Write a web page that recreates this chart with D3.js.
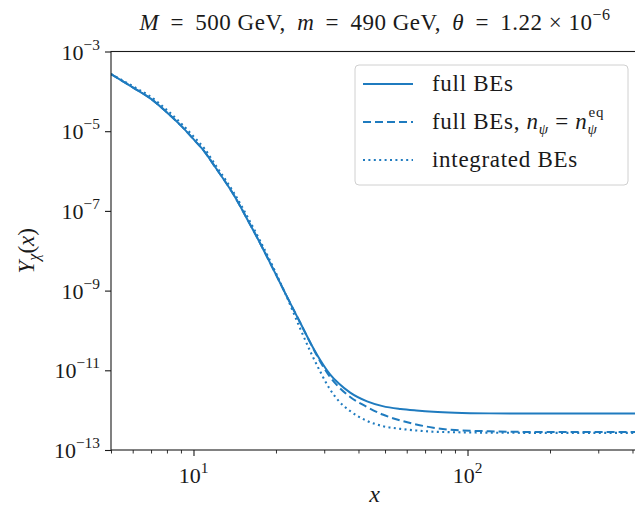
<!DOCTYPE html>
<html>
<head>
<meta charset="utf-8">
<script src="https://cdn.jsdelivr.net/npm/d3@7"></script>
<style>
  body { margin: 0; background: #fff; }
  svg { display: block; font-family: "Liberation Serif", "DejaVu Serif", serif; }
</style>
</head>
<body>
<svg id="chart"></svg>
<script>
// values
var xValues = [5, 6, 7, 8, 9, 10, 11, 12, 14, 16, 17.5, 20, 22, 24.5, 27, 29, 31.5, 34, 37.3, 43, 49, 57, 65, 75, 90, 120, 200, 300, 420];
var fullBEs = [2.72e-4, 1.26e-4, 6.46e-5, 2.95e-5, 1.38e-5, 6.3e-6, 3.0e-6, 1.26e-6, 2.57e-7, 4.9e-8, 1.55e-8, 2.51e-9, 6.76e-10, 1.58e-10, 4.27e-11, 1.82e-11, 7.94e-12, 4.57e-12, 2.75e-12, 1.66e-12, 1.26e-12, 1.07e-12, 9.8e-13, 9.1e-13, 8.6e-13, 8.3e-13, 8.2e-13, 8.2e-13, 8.2e-13];
var fullBEsEq = [2.72e-4, 1.26e-4, 6.46e-5, 2.95e-5, 1.38e-5, 6.3e-6, 3.0e-6, 1.26e-6, 2.57e-7, 4.9e-8, 1.55e-8, 2.51e-9, 6.76e-10, 1.58e-10, 4.17e-11, 1.66e-11, 6.76e-12, 3.72e-12, 2.14e-12, 1.2e-12, 7.76e-13, 5.5e-13, 4.37e-13, 3.63e-13, 3.16e-13, 2.95e-13, 2.82e-13, 2.82e-13, 2.82e-13];
var integratedBEs = [2.72e-4, 1.35e-4, 7.2e-5, 3.4e-5, 1.58e-5, 7.4e-6, 3.55e-6, 1.45e-6, 2.95e-7, 5.75e-8, 1.78e-8, 2.75e-9, 6.46e-10, 1.12e-10, 2.51e-11, 9.3e-12, 3.31e-12, 1.66e-12, 9.5e-13, 5.37e-13, 3.98e-13, 3.39e-13, 3.09e-13, 2.88e-13, 2.79e-13, 2.72e-13, 2.69e-13, 2.69e-13, 2.69e-13];

var yTicks = [1e-3, 1e-5, 1e-7, 1e-9, 1e-11, 1e-13];
var xMajorTicks = [10, 100];
var xMinorTicks = [5, 6, 7, 8, 9, 20, 30, 40, 50, 60, 70, 80, 90, 200, 300, 400];

var seriesNames = ["full BEs", "full BEs, n_eq", "integrated BEs"];
var seriesDash = [null, "8,4", "2,3.4"];

var iWidth = 635, iHeight = 512;
var oPlot = { left: 111, top: 51.5, right: 638.3, bottom: 450 };
var sColor = "#1f7bbf";
var sInk = "#1a1a1a";

var oSvg = d3.select("#chart").attr("width", iWidth).attr("height", iHeight);

var oScaleX = d3.scaleLog().domain([5, 420]).range([oPlot.left, oPlot.right]);
var oScaleY = d3.scaleLog().domain([1e-13, 1e-3]).range([oPlot.bottom, oPlot.top]);

oSvg.append("clipPath").attr("id", "plotClip")
	.append("rect")
	.attr("x", oPlot.left).attr("y", oPlot.top)
	.attr("width", oPlot.right - oPlot.left).attr("height", oPlot.bottom - oPlot.top);

// curves
var oLine = d3.line()
	.x(function (d) { return oScaleX(d[0]); })
	.y(function (d) { return oScaleY(d[1]); })
	.curve(d3.curveMonotoneX);

var aSeries = [fullBEs, fullBEsEq, integratedBEs];
var oCurves = oSvg.append("g").attr("clip-path", "url(#plotClip)");
aSeries.forEach(function (aY, i) {
	oCurves.append("path")
		.datum(xValues.map(function (x, j) { return [x, aY[j]]; }))
		.attr("fill", "none")
		.attr("stroke", sColor)
		.attr("stroke-width", i === 2 ? 2.1 : 2)
		.attr("stroke-dasharray", seriesDash[i])
		.attr("d", oLine);
});

// spines
oSvg.append("rect")
	.attr("x", oPlot.left).attr("y", oPlot.top)
	.attr("width", oPlot.right - oPlot.left).attr("height", oPlot.bottom - oPlot.top)
	.attr("fill", "none").attr("stroke", sInk).attr("stroke-width", 1.1);

// y axis
var oYAxis = oSvg.append("g")
	.attr("transform", "translate(" + oPlot.left + ",0)")
	.call(d3.axisLeft(oScaleY).tickValues(yTicks).tickSize(6).tickFormat(""));
oYAxis.select(".domain").remove();
oYAxis.selectAll(".tick line").attr("stroke", sInk).attr("stroke-width", 1.1);

function powerLabel(oText, iExp, fSize) {
	oText.append("tspan").text("10");
	oText.append("tspan")
		.attr("dy", -0.45 * fSize)
		.attr("font-size", fSize * 0.7)
		.text(iExp < 0 ? "\u2212" + (-iExp) : String(iExp));
}

yTicks.forEach(function (v) {
	var oText = oSvg.append("text")
		.attr("x", oPlot.left - 11)
		.attr("y", oScaleY(v) + 8)
		.attr("text-anchor", "end")
		.attr("font-size", 22)
		.attr("fill", sInk);
	powerLabel(oText, Math.round(Math.log10(v)), 22);
});

// x axis
var oXAxis = oSvg.append("g")
	.attr("transform", "translate(0," + oPlot.bottom + ")")
	.call(d3.axisBottom(oScaleX).tickValues(xMajorTicks).tickSize(6).tickFormat(""));
oXAxis.select(".domain").remove();
oXAxis.selectAll(".tick line").attr("stroke", sInk).attr("stroke-width", 1.1);

var oXMinor = oSvg.append("g")
	.attr("transform", "translate(0," + oPlot.bottom + ")")
	.call(d3.axisBottom(oScaleX).tickValues(xMinorTicks).tickSize(3.5).tickFormat(""));
oXMinor.select(".domain").remove();
oXMinor.selectAll(".tick line").attr("stroke", sInk).attr("stroke-width", 0.9);

xMajorTicks.forEach(function (v) {
	var oText = oSvg.append("text")
		.attr("x", oScaleX(v))
		.attr("y", oPlot.bottom + 33)
		.attr("text-anchor", "middle")
		.attr("font-size", 22)
		.attr("fill", sInk);
	powerLabel(oText, Math.round(Math.log10(v)), 22);
});

// axis titles
oSvg.append("text")
	.attr("x", (oPlot.left + oPlot.right) / 2)
	.attr("y", 502)
	.attr("text-anchor", "middle")
	.attr("font-size", 24)
	.attr("font-style", "italic")
	.attr("fill", sInk)
	.text("x");

var oYLabel = oSvg.append("text")
	.attr("transform", "translate(34," + ((oPlot.top + oPlot.bottom) / 2) + ") rotate(-90)")
	.attr("text-anchor", "middle")
	.attr("font-size", 23)
	.attr("fill", sInk);
oYLabel.append("tspan").attr("font-style", "italic").text("Y");
oYLabel.append("tspan").attr("font-style", "italic").attr("font-size", 16).attr("dy", 5).text("\u03c7");
oYLabel.append("tspan").attr("dy", -5).text("(");
oYLabel.append("tspan").attr("font-style", "italic").text("x");
oYLabel.append("tspan").text(")");

// title
var oTitle = oSvg.append("text")
	.attr("x", 375)
	.attr("y", 30)
	.attr("text-anchor", "middle")
	.attr("font-size", 23)
	.attr("letter-spacing", 0.5)
	.attr("fill", sInk);
oTitle.append("tspan").attr("font-style", "italic").text("M");
oTitle.append("tspan").text(" \u2009=\u2009 500 GeV,  \u2009");
oTitle.append("tspan").attr("font-style", "italic").text("m");
oTitle.append("tspan").text(" \u2009=\u2009 490 GeV,  \u2009");
oTitle.append("tspan").attr("font-style", "italic").text("\u03b8");
oTitle.append("tspan").text(" \u2009=\u2009 1.22 \u00d7 10");
oTitle.append("tspan").attr("dy", -10).attr("font-size", 16).text("\u22126");

// legend
var oLegend = oSvg.append("g");
oLegend.append("rect")
	.attr("x", 355).attr("y", 65).attr("width", 273).attr("height", 120)
	.attr("rx", 4)
	.attr("fill", "#fff").attr("fill-opacity", 0.8)
	.attr("stroke", "#d0d0d0").attr("stroke-width", 1);

seriesNames.forEach(function (sName, i) {
	var iY = 84 + i * 38;
	oLegend.append("line")
		.attr("x1", 363).attr("x2", 413)
		.attr("y1", iY).attr("y2", iY)
		.attr("stroke", sColor).attr("stroke-width", 2)
		.attr("stroke-dasharray", seriesDash[i]);
	var oText = oLegend.append("text")
		.attr("x", 432).attr("y", iY + 7)
		.attr("font-size", 23)
		.attr("letter-spacing", 0.7)
		.attr("fill", sInk);
	if (i === 1) {
		oText.append("tspan").text("full BEs, ");
		oText.append("tspan").attr("font-style", "italic").text("n");
		oText.append("tspan").attr("font-style", "italic").attr("font-size", 15).attr("dy", 5).text("\u03c8");
		oText.append("tspan").attr("dy", -5).text(" = ");
		oText.append("tspan").attr("font-style", "italic").text("n");
		oText.append("tspan").attr("font-style", "italic").attr("font-size", 15).attr("dy", 5).text("\u03c8");
		oText.append("tspan").attr("font-size", 15).attr("dx", -9).attr("dy", -17).text("eq");
	} else {
		oText.text(sName);
	}
});
</script>
</body>
</html>
